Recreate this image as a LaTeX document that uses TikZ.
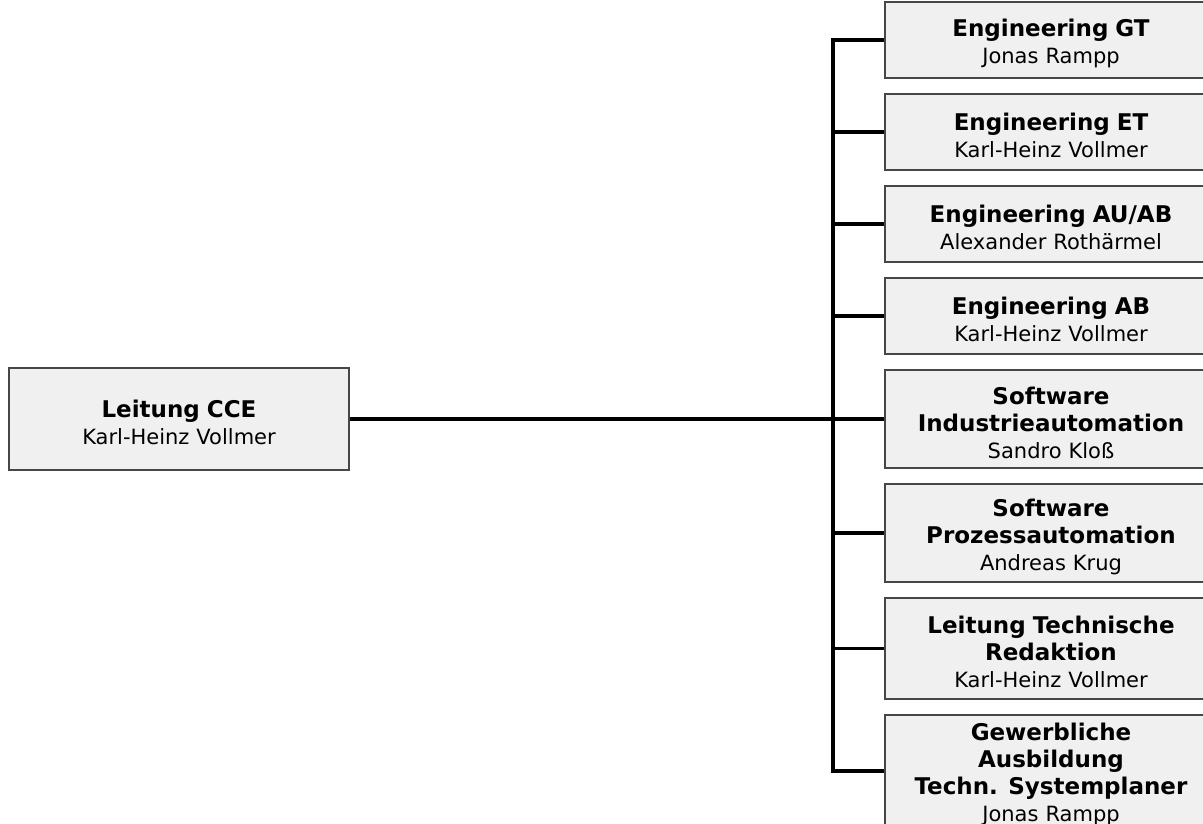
\documentclass[tikz,border=0pt]{standalone}
\usepackage{fontspec}
\setmainfont{DejaVu Sans}
\usetikzlibrary{positioning}
\definecolor{boxGray}{RGB}{240, 240, 240}
\definecolor{frameGray}{RGB}{70, 70, 70}
\newcommand{\orgunit}[2]{\rule{0pt}{25pt}{\fontsize{23}{27}\selectfont\bfseries #1}\\#2}
\tikzset{
    % Base Box Style
    orgbox/.style={
        rectangle,
        fill=boxGray,
        draw=frameGray,
        line width=1.2pt,
        inner sep=0pt,
        text width=320pt,
        minimum width=332pt,
        align=center,
        font=\fontsize{21}{27}\selectfont
    },
    % Box Heights by Line Count
    lineTwo/.style={orgbox, minimum height=76pt},
    lineThree/.style={orgbox, minimum height=98pt},
    lineFour/.style={orgbox, minimum height=112pt},
    leadbox/.style={orgbox, minimum width=340pt, minimum height=102pt},
    % Connector Style
    link/.style={line width=3.2pt, draw=black}
}
\begin{document}
\begin{tikzpicture}[
    x=1pt, y=-1pt,
    node distance=14.8pt
]
    \useasboundingbox (0,0) rectangle (1203,824);

    % --- LEFT (Head) ---
    \node (lead) [leadbox] at (179,419) {\orgunit{Leitung CCE}{Karl-Heinz Vollmer}};

    % --- RIGHT COLUMN (Departments) ---
    \node (engGT) [lineTwo] at (1051,40) {\orgunit{Engineering GT}{Jonas Rampp}};
    \node (engET) [lineTwo, below=of engGT] {\orgunit{Engineering ET}{Karl-Heinz Vollmer}};
    \node (engAU) [lineTwo, below=of engET] {\orgunit{Engineering AU/AB}{Alexander Rothärmel}};
    \node (engAB) [lineTwo, below=of engAU] {\orgunit{Engineering AB}{Karl-Heinz Vollmer}};
    \node (swIA) [lineThree, below=of engAB] {\orgunit{Software\\Industrieautomation}{Sandro Kloß}};
    \node (swPA) [lineThree, below=of swIA] {\orgunit{Software\\Prozessautomation}{Andreas Krug}};
    \node (techRed) [lineThree, minimum height=101pt, below=of swPA] {\orgunit{Leitung Technische\\Redaktion}{Karl-Heinz Vollmer}};
    \node (ausb) [lineFour, below=of techRed] {\orgunit{Gewerbliche\\Ausbildung\\Techn. Systemplaner}{Jonas Rampp}};

    % --- Connectors ---
    \coordinate (bus) at (833,0);
    \draw [link] (engGT.west) -- (bus |- engGT.west) -- (bus |- ausb.west) -- (ausb.west);
    \draw [link] (lead.east) -- (lead.east -| bus);
    \foreach \dept in {engET, engAU, engAB, swIA, swPA, techRed}
        \draw [link] (bus |- \dept.west) -- (\dept.west);

\end{tikzpicture}
\end{document}
